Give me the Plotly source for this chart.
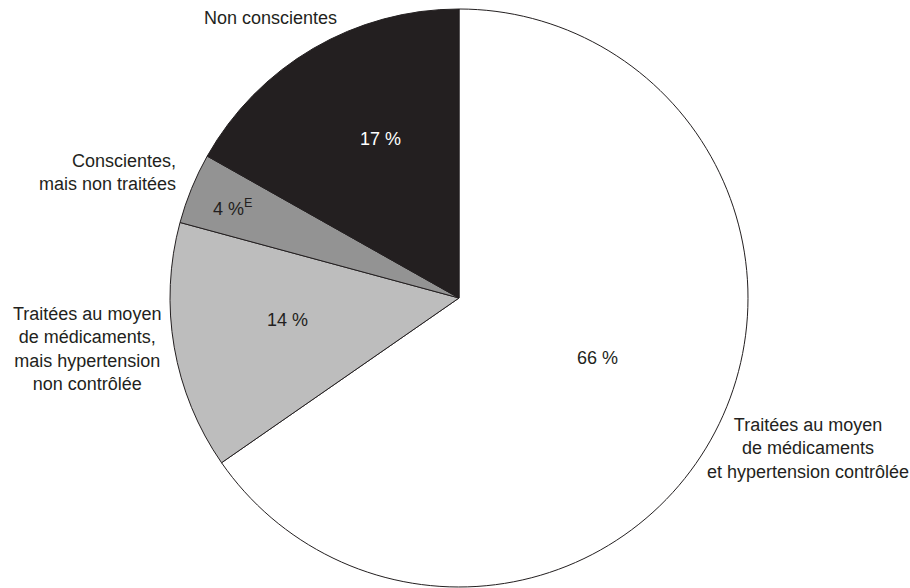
import plotly.graph_objects as go

# Hypertension status shares (%)
categories = [
    "Traitées au moyen de médicaments et hypertension contrôlée",
    "Traitées au moyen de médicaments, mais hypertension non contrôlée",
    "Conscientes, mais non traitées",
    "Non conscientes",
]
values = [66, 14, 4, 17]
value_flags = ["", "", "E", ""]
outer_labels = [
    "Traitées au moyen<br>de médicaments<br>et hypertension contrôlée",
    "Traitées au moyen<br>de médicaments,<br>mais hypertension<br>non contrôlée",
    "Conscientes,<br>mais non traitées",
    "Non conscientes",
]
slice_colors = ["#ffffff", "#bdbdbd", "#939393", "#231f20"]
value_text_colors = ["#231f20", "#231f20", "#231f20", "#ffffff"]

W, H = 910, 588
FONT = "Liberation Sans, Arial, sans-serif"
FS = 18


def px(x, y):
    return x / W, 1 - y / H


fig = go.Figure(
    go.Pie(
        labels=categories,
        values=values,
        sort=False,
        direction="clockwise",
        rotation=0,
        marker=dict(colors=slice_colors, line=dict(color="#231f20", width=1)),
        textinfo="none",
        hoverinfo="label+value",
        showlegend=False,
        domain=dict(x=[170 / W, 748 / W], y=[1 / H, 579 / H]),
    )
)

# value labels inside slices
value_pos = [(597, 358), (287, 320), (233, 207), (380, 139)]
for v, flag, col, (x, y) in zip(values, value_flags, value_text_colors, value_pos):
    txt = f"{v} %" + (f"<sup>{flag}</sup>" if flag else "")
    ax, ay = px(x, y)
    fig.add_annotation(
        x=ax, y=ay, xref="paper", yref="paper", text=txt, showarrow=False,
        font=dict(family=FONT, size=FS, color=col), xanchor="center", yanchor="middle",
    )

# category labels around the pie
label_pos = [
    (808, 448, "center", "center"),
    (87, 349, "center", "center"),
    (178, 172, "right", "right"),
    (270, 18, "center", "center"),
]
for lab, (x, y, anchor, align) in zip(outer_labels, label_pos):
    ax, ay = px(x, y)
    fig.add_annotation(
        x=ax, y=ay, xref="paper", yref="paper", text=lab, showarrow=False,
        font=dict(family=FONT, size=FS, color="#231f20"),
        xanchor=anchor, yanchor="middle", align=align,
    )

fig.update_layout(
    width=W, height=H,
    margin=dict(l=0, r=0, t=0, b=0),
    paper_bgcolor="#ffffff",
    plot_bgcolor="#ffffff",
)

fig.write_html("out.html")
